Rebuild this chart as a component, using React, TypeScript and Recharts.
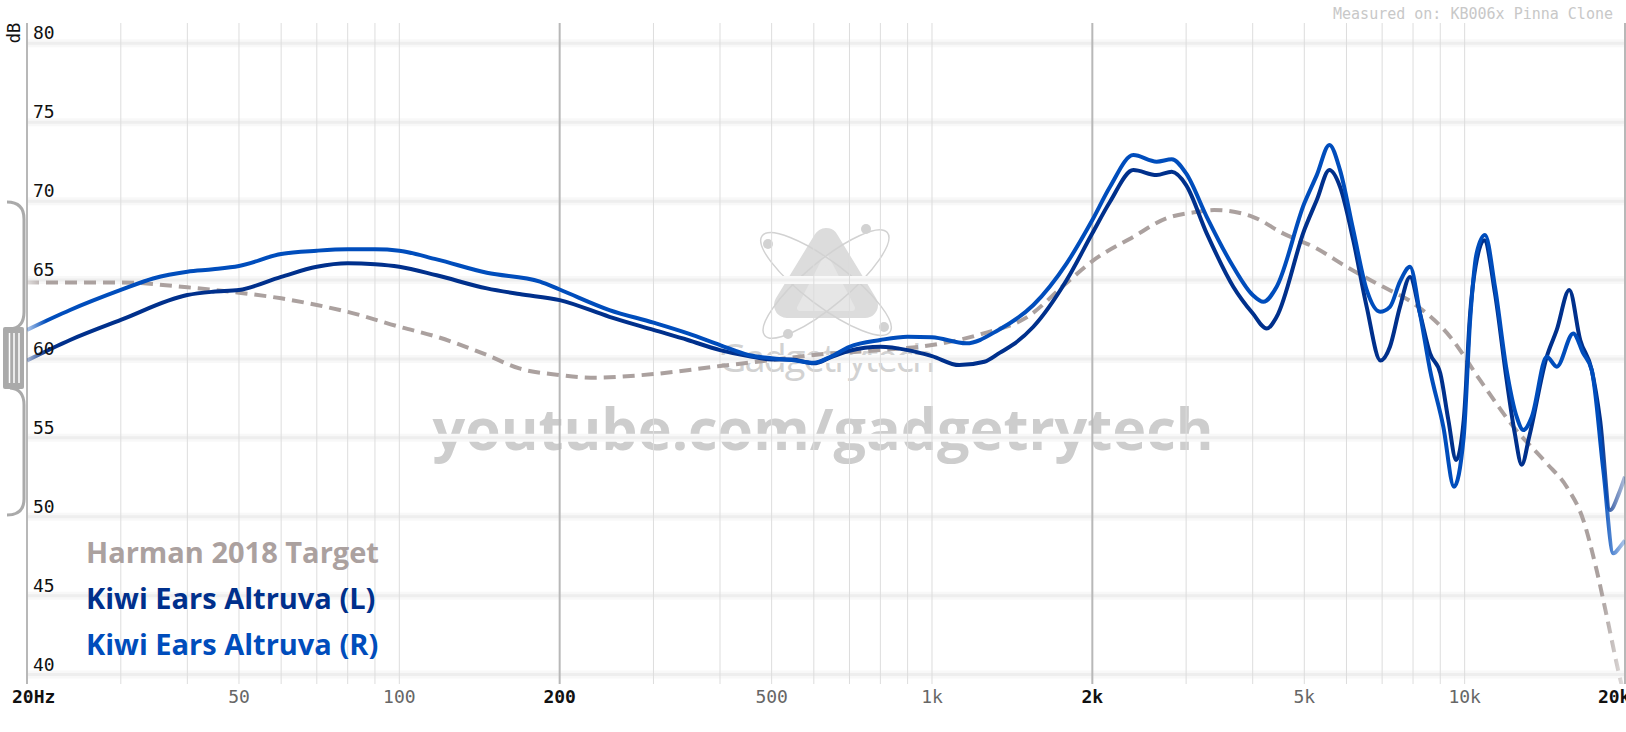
import { CartesianGrid, Line, LineChart, XAxis, YAxis } from 'recharts'

// Frequency-response plot (squig.link style): Harman target + left/right channel.
const W = 1626
const H = 732
const MONO = '"DejaVu Sans Mono", monospace'
const SANS = '"Open Sans", sans-serif'

const HARMAN = '#ABA19F'
const LEFT = '#00308C'
const RIGHT = '#004DBC'

const harmanFreq = [20, 30, 40, 50, 60, 70, 82, 100, 117.5, 146, 168, 200, 229, 300, 400, 500, 600, 800, 1000, 1250, 1500, 1800, 2000, 2390, 2755, 3165, 3385, 4000, 4560, 5277, 6000, 7000, 8020, 9390, 10690, 12350, 14260, 15540, 16700, 17690, 18550, 19480, 20000]
const harmanDb = [64.85, 64.85, 64.54, 64.2, 63.84, 63.42, 62.89, 62.04, 61.41, 60.25, 59.4, 58.98, 58.81, 59.04, 59.55, 59.93, 60.25, 60.56, 60.88, 61.62, 62.6, 64.9, 66.2, 67.75, 68.91, 69.33, 69.44, 69.01, 67.96, 67.0, 65.84, 64.6, 63.52, 61.41, 58.66, 55.7, 53.38, 51.9, 49.79, 46.62, 43.45, 40.07, 38.5]

const leftFreq = [20, 24.1, 30, 40, 44.7, 50, 60, 70, 80, 90, 100, 117.5, 146, 168, 200, 248, 300, 348, 400, 452, 500, 545, 600, 645, 700, 800, 900, 1000, 1125, 1254, 1342, 1419, 1550, 1790, 2000, 2159, 2388, 2641, 2819, 3000, 3279, 3678, 4000, 4250, 4437, 5000, 5277, 5573, 5835, 6178, 6548, 6950, 7240, 7560, 7896, 8243, 8610, 9000, 9320, 9640, 9960, 10240, 10640, 10880, 11400, 11990, 12420, 12800, 13220, 14260, 14890, 15720, 16480, 17320, 17960, 18750, 19480, 20000]
const leftDb = [59.9, 61.2, 62.47, 64.05, 64.26, 64.37, 65.2, 65.84, 66.06, 66.0, 65.84, 65.3, 64.47, 64.11, 63.73, 62.67, 61.84, 61.2, 60.56, 60.18, 59.97, 59.97, 59.72, 60.1, 60.52, 60.77, 60.56, 60.18, 59.61, 59.82, 60.4, 60.9, 62.04, 65.0, 67.96, 69.96, 71.97, 71.65, 71.86, 71.02, 67.96, 64.58, 62.89, 61.93, 62.67, 68.17, 70.07, 71.97, 70.91, 67.53, 63.3, 59.9, 60.77, 63.3, 65.2, 62.89, 60.35, 59.09, 56.13, 53.6, 56.13, 62.89, 66.9, 67.53, 64.16, 58.66, 55.28, 53.3, 55.07, 60.14, 61.84, 64.37, 61.2, 59.3, 56.13, 50.42, 51.48, 52.54]

const rightFreq = [20, 24.1, 30, 34.5, 40, 44.7, 50, 60, 70, 80, 90, 100, 117.5, 146, 183.7, 200, 248, 300, 348, 400, 452, 500, 545, 600, 645, 700, 800, 900, 1000, 1160, 1333, 1550, 1790, 2000, 2159, 2388, 2641, 2819, 3000, 3279, 3678, 4000, 4189, 4437, 5000, 5277, 5573, 5835, 6178, 6548, 6936, 7240, 7560, 7896, 8243, 8610, 9120, 9550, 9960, 10240, 10530, 10920, 11400, 11990, 12520, 12890, 13370, 14260, 14890, 15990, 16700, 17320, 18210, 19020, 19580, 20000]
const rightDb = [61.84, 63.1, 64.37, 65.1, 65.53, 65.68, 65.89, 66.65, 66.86, 66.95, 66.95, 66.86, 66.31, 65.46, 64.9, 64.4, 63.1, 62.3, 61.62, 60.88, 60.25, 60.04, 59.93, 59.76, 60.14, 60.77, 61.2, 61.41, 61.37, 60.99, 61.84, 63.42, 66.06, 68.8, 70.91, 72.92, 72.5, 72.65, 71.76, 69.01, 65.84, 64.05, 63.62, 64.58, 69.86, 71.65, 73.56, 71.97, 68.17, 64.37, 62.99, 63.3, 64.9, 65.84, 62.89, 59.3, 55.7, 51.9, 55.07, 62.47, 66.69, 67.85, 64.58, 59.3, 56.34, 55.49, 56.34, 60.14, 59.51, 61.62, 60.35, 59.3, 52.96, 47.68, 48.1, 48.5]

const xTicks = [20, 50, 100, 200, 500, 1000, 2000, 5000, 10000, 20000]
const xTickLabels = ['20Hz', '50', '100', '200', '500', '1k', '2k', '5k', '10k', '20kHz']
const majorFreqs = [20, 200, 2000, 20000]
const gridFreqs = [20, 30, 40, 50, 60, 70, 80, 90, 100, 200, 300, 400, 500, 600, 700, 800, 900, 1000, 2000, 3000, 4000, 5000, 6000, 7000, 8000, 9000, 10000, 20000]
const yTicks = [40, 45, 50, 55, 60, 65, 70, 75, 80]

const legendNames = ['Harman 2018 Target', 'Kiwi Ears Altruva (L)', 'Kiwi Ears Altruva (R)']
const legendColors = [HARMAN, LEFT, RIGHT]

const toPoints = (freq: number[], db: number[]) => freq.map((hz, i) => ({ hz, db: db[i] }))

function XTick({ x, y, payload }: any) {
  const v = payload.value
  const major = majorFreqs.includes(v)
  const first = v === 20
  return (
    <text
      x={first ? x - 15 : x}
      y={y + 19}
      textAnchor={first ? 'start' : 'middle'}
      fontFamily={MONO}
      fontSize={18}
      fontWeight={major ? 700 : 400}
      fill={major ? '#111' : '#666'}
    >
      {xTickLabels[xTicks.indexOf(v)]}
    </text>
  )
}

function YTick({ x, y, payload }: any) {
  return (
    <text x={x + 6} y={y - 4} textAnchor="start" fontFamily={MONO} fontSize={18} fill="#111">
      {payload.value}
    </text>
  )
}

function HLine(p: any) {
  return (
    <g key={p.key}>
      <line x1={p.x1} x2={p.x2} y1={p.y1} y2={p.y2} stroke="#f8f8f8" strokeWidth={8} />
      <line x1={p.x1} x2={p.x2} y1={p.y1} y2={p.y2} stroke="#eeeeee" strokeWidth={3} />
    </g>
  )
}

function VLine(p: any) {
  const major = majorFreqs.includes(gridFreqs[p.index])
  return (
    <line
      key={p.key}
      x1={p.x1}
      x2={p.x2}
      y1={p.y1}
      y2={p.y2}
      stroke={major ? '#b8b8b8' : '#dddddd'}
      strokeWidth={major ? 2 : 1}
    />
  )
}

function Watermark() {
  return (
    <svg width={W} height={H} style={{ position: 'absolute', left: 0, top: 0 }}>
      <path d="M826 241 L787 305 L865 305 Z" fill="#dcdcdc" stroke="#dcdcdc" strokeWidth={26} strokeLinejoin="round" />
      <path d="M826 258 L800 308 L852 308 Z" fill="#e6e6e6" stroke="#e6e6e6" strokeWidth={6} strokeLinejoin="round" />
      <ellipse cx={826} cy={284} rx={80} ry={22} transform="rotate(37 826 284)" fill="none" stroke="#d2d2d2" strokeWidth={1.5} />
      <ellipse cx={826} cy={284} rx={80} ry={22} transform="rotate(-40 826 284)" fill="none" stroke="#d2d2d2" strokeWidth={1.5} />
      <circle cx={768} cy={244} r={5} fill="#d2d2d2" />
      <circle cx={866} cy={229} r={5} fill="#d2d2d2" />
      <circle cx={884} cy={327} r={5} fill="#d2d2d2" />
      <circle cx={788} cy={334} r={5} fill="#d2d2d2" />
      <text x={826} y={372} textAnchor="middle" fontFamily={SANS} fontSize={38} letterSpacing={-2} fill="#d2d2d2">
        Gadgetrytech
      </text>
      <text x={823} y={450} textAnchor="middle" fontFamily={SANS} fontWeight={700} fontSize={57.5} fill="#cdcdcd">
        youtube.com/gadgetrytech
      </text>
    </svg>
  )
}

function Overlay() {
  return (
    <svg width={W} height={H} style={{ position: 'absolute', left: 0, top: 0, pointerEvents: 'none' }}>
      <text x={0} y={0} transform="translate(20 33) rotate(-90)" textAnchor="middle" fontFamily={MONO} fontSize={17} fill="#111">
        dB
      </text>
      <text x={1613} y={19} textAnchor="end" fontFamily={MONO} fontSize={15} fill="#c8c8c8">
        Measured on: KB006x Pinna Clone
      </text>
      <path
        d="M7 202 Q24 202 24 219 L24 312 Q24 328 10 329 M10 388 Q24 389 24 405 L24 499 Q24 515 7 515"
        fill="none"
        stroke="#aaaaaa"
        strokeWidth={3}
      />
      <rect x={3} y={327} width={21} height={62} rx={2} fill="#aaaaaa" />
      {[9.5, 14, 19].map((lx) => (
        <line key={lx} x1={lx} x2={lx} y1={333} y2={383} stroke="#ffffff" strokeWidth={1.5} />
      ))}
      {legendNames.map((name, i) => (
        <text key={name} x={86} y={563 + i * 46} fontFamily={SANS} fontWeight={700} fontSize={29} fill={legendColors[i]}>
          {name}
        </text>
      ))}
    </svg>
  )
}

export default function App() {
  return (
    <div style={{ position: 'absolute', left: 0, top: 0, width: W, height: H, background: '#fff', overflow: 'hidden' }}>
      <svg width={0} height={0} style={{ position: 'absolute' }}>
        <defs>
          {[
            ['fadeH', HARMAN],
            ['fadeL', LEFT],
            ['fadeR', RIGHT],
          ].map(([id, c]) => (
            <linearGradient key={id} id={id} x1="0" y1="0" x2="1" y2="0">
              <stop offset="0" stopColor={c} stopOpacity={0.3} />
              <stop offset="0.012" stopColor={c} stopOpacity={1} />
              <stop offset="0.985" stopColor={c} stopOpacity={1} />
              <stop offset="1" stopColor={c} stopOpacity={0.3} />
            </linearGradient>
          ))}
        </defs>
      </svg>
      <Watermark />
      <div style={{ position: 'absolute', left: 0, top: 0 }}>
        <LineChart width={W} height={H} margin={{ top: 23, right: 1, left: 21, bottom: 0 }}>
          <CartesianGrid horizontalValues={yTicks} verticalValues={gridFreqs} horizontal={HLine} vertical={VLine} />
          <XAxis
            type="number"
            dataKey="hz"
            scale="log"
            domain={[20, 20000]}
            ticks={xTicks}
            interval={0}
            allowDataOverflow
            height={48}
            axisLine={false}
            tickLine={false}
            tickSize={0}
            tickMargin={0}
            tick={<XTick />}
          />
          <YAxis
            type="number"
            domain={[39.4, 81.29]}
            ticks={yTicks}
            interval={0}
            allowDataOverflow
            width={6}
            axisLine={false}
            tickLine={false}
            tickSize={0}
            tickMargin={0}
            tick={<YTick />}
          />
          <Line data={toPoints(harmanFreq, harmanDb)} dataKey="db" type="monotone" stroke="url(#fadeH)" strokeWidth={4} strokeDasharray="12 7" dot={false} isAnimationActive={false} />
          <Line data={toPoints(leftFreq, leftDb)} dataKey="db" type="monotone" stroke="url(#fadeL)" strokeWidth={4} dot={false} isAnimationActive={false} />
          <Line data={toPoints(rightFreq, rightDb)} dataKey="db" type="monotone" stroke="url(#fadeR)" strokeWidth={4} dot={false} isAnimationActive={false} />
        </LineChart>
      </div>
      <Overlay />
    </div>
  )
}
